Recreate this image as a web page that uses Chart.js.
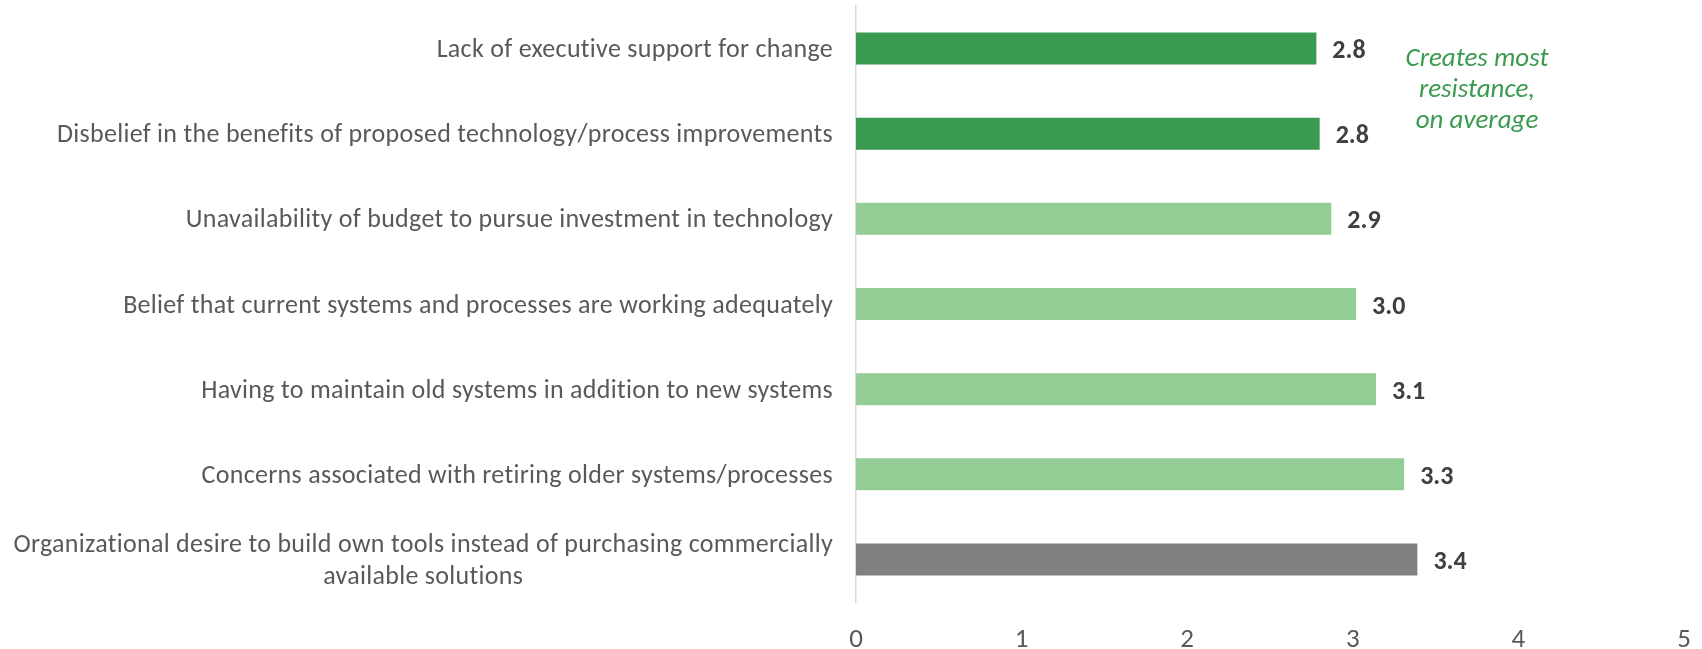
<!DOCTYPE html>
<html>
<head>
<meta charset="utf-8">
<script src="https://cdn.jsdelivr.net/npm/chart.js@4/dist/chart.umd.min.js"></script>
<style>
  html, body { margin: 0; padding: 0; background: #ffffff; }
  #wrap { width: 1702px; height: 649px; position: relative; }
</style>
</head>
<body>
<div id="wrap"><canvas id="resistance-chart"></canvas></div>
<script>
// Static data
const categories = [
    "Lack of executive support for change",
    "Disbelief in the benefits of proposed technology/process improvements",
    "Unavailability of budget to pursue investment in technology",
    "Belief that current systems and processes are working adequately",
    "Having to maintain old systems in addition to new systems",
    "Concerns associated with retiring older systems/processes",
    ["Organizational desire to build own tools instead of purchasing commercially", "available solutions"],
];
const scores = [2.78, 2.8, 2.87, 3.02, 3.14, 3.31, 3.39];
const groups = ["top", "top", "mid", "mid", "mid", "mid", "low"];
const xTicks = [0, 1, 2, 3, 4, 5];
const noteLines = ["Creates most", "resistance,", "on average"];

const colors = {
    top: "#3a9a50",
    mid: "#93cd95",
    low: "#808080",
};

const FONT = "Carlito, Calibri, Lato, sans-serif";

// Category labels: right aligned, multi-line blocks centered on themselves
const categoryLabels = {
    id: "categoryLabels",
    afterDraw(chart) {
        const { ctx, scales: { y } } = chart;
        ctx.save();
        ctx.font = `26px ${FONT}`;
        ctx.letterSpacing = "0.3px";
        ctx.fillStyle = "#595959";
        ctx.textBaseline = "middle";
        const right = y.right - 23;
        const lineH = 32;
        categories.forEach((label, i) => {
            const cy = y.getPixelForValue(i) + 2;
            const lines = Array.isArray(label) ? label : [label];
            const maxW = Math.max(...lines.map((l) => ctx.measureText(l).width));
            const top = cy - ((lines.length - 1) * lineH) / 2;
            lines.forEach((line, j) => {
                if (lines.length > 1) {
                    ctx.textAlign = "center";
                    ctx.fillText(line, right - maxW / 2, top + j * lineH);
                } else {
                    ctx.textAlign = "right";
                    ctx.fillText(line, right, top + j * lineH);
                }
            });
        });
        ctx.restore();
    },
};

// Value labels at the end of each bar
const valueLabels = {
    id: "valueLabels",
    afterDatasetsDraw(chart) {
        const { ctx } = chart;
        const meta = chart.getDatasetMeta(0);
        ctx.save();
        ctx.font = `bold 26px ${FONT}`;
        ctx.fillStyle = "#404040";
        ctx.textAlign = "left";
        ctx.textBaseline = "middle";
        meta.data.forEach((bar, i) => {
            ctx.fillText(scores[i].toFixed(1), bar.x + 16, bar.y + 3);
        });
        ctx.restore();
    },
};

// Italic note beside the top two bars
const note = {
    id: "note",
    afterDraw(chart) {
        const { ctx, scales: { x, y } } = chart;
        const cx = x.getPixelForValue(3.75);
        const cy = (y.getPixelForValue(0) + y.getPixelForValue(1)) / 2;
        ctx.save();
        ctx.font = `italic 27px ${FONT}`;
        ctx.fillStyle = "#3a9a50";
        ctx.textAlign = "center";
        ctx.textBaseline = "middle";
        noteLines.forEach((line, j) => {
            ctx.fillText(line, cx, cy - 1 + (j - 1) * 31);
        });
        ctx.restore();
    },
};

const ctx = document.getElementById("resistance-chart");

new Chart(ctx, {
    type: "bar",
    data: {
        labels: categories,
        datasets: [
            {
                data: scores,
                backgroundColor: groups.map((g) => colors[g]),
                borderWidth: 0,
                barPercentage: 0.376,
                categoryPercentage: 1,
            },
        ],
    },
    options: {
        indexAxis: "y",
        responsive: true,
        maintainAspectRatio: false,
        animation: false,
        layout: {
            padding: { top: 6, right: 0, bottom: 0, left: 0 },
        },
        scales: {
            x: {
                min: xTicks[0],
                max: xTicks[xTicks.length - 1],
                afterBuildTicks: (scale) => {
                    scale.ticks = xTicks.map((v) => ({ value: v }));
                },
                grid: { display: false, drawTicks: false },
                border: { display: false },
                ticks: {
                    padding: 22,
                    color: "#595959",
                    font: { family: FONT, size: 27 },
                },
                afterFit: (scale) => {
                    scale.height = 47;
                    scale.paddingLeft = 0;
                    scale.paddingRight = 18;
                },
            },
            y: {
                grid: { display: false, drawTicks: false },
                border: { display: true, color: "#d9d9d9", width: 1.5 },
                ticks: { display: false },
                afterFit: (scale) => {
                    scale.width = 856;
                },
            },
        },
        plugins: {
            legend: { display: false },
            tooltip: { enabled: false },
        },
    },
    plugins: [categoryLabels, valueLabels, note],
});
</script>
</body>
</html>
